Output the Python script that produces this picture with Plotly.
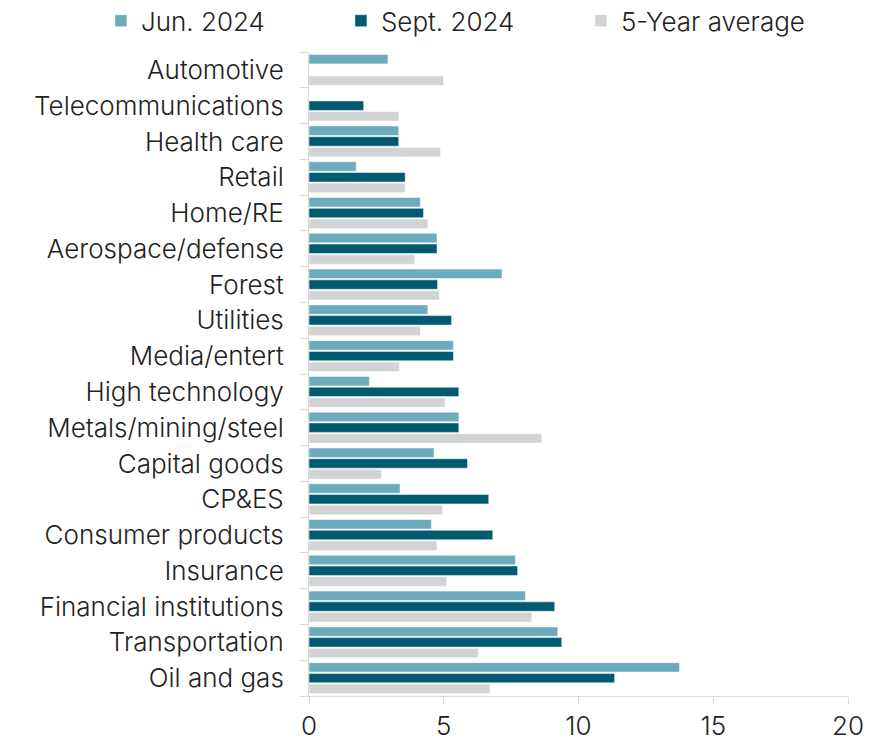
import plotly.graph_objects as go

categories = ["Automotive", "Telecommunications", "Health care", "Retail", "Home/RE",
              "Aerospace/defense", "Forest", "Utilities", "Media/entert", "High technology",
              "Metals/mining/steel", "Capital goods", "CP&ES", "Consumer products",
              "Insurance", "Financial institutions", "Transportation", "Oil and gas"]

jun_2024 = [2.93, None, 3.33, 1.75, 4.13, 4.75, 7.16, 4.41, 5.36, 2.24,
            5.56, 4.64, 3.38, 4.54, 7.66, 8.03, 9.23, 13.75]
sept_2024 = [None, 2.03, 3.33, 3.57, 4.25, 4.75, 4.77, 5.29, 5.36, 5.56,
             5.56, 5.88, 6.67, 6.82, 7.74, 9.12, 9.38, 11.34]
five_year_avg = [4.99, 3.33, 4.88, 3.57, 4.41, 3.92, 4.84, 4.13, 3.36, 5.05,
                 8.64, 2.69, 4.95, 4.75, 5.11, 8.27, 6.28, 6.72]

x_ticks = [0, 5, 10, 15, 20]

series = [
    ("Jun. 2024", jun_2024, "#6CAABD"),
    ("Sept. 2024", sept_2024, "#005A70"),
    ("5-Year average", five_year_avg, "#D2D3D5"),
]

FONT = "Inter"
TXT = "#222222"
FS = 26

fig = go.Figure()
for name, vals, color in series:
    fig.add_trace(go.Bar(
        name=name, x=vals, y=categories, orientation="h",
        marker=dict(color=color, line=dict(color="white", width=0.5)),
    ))

fig.update_layout(
    width=891, height=739,
    margin=dict(l=309, r=43, t=52, b=43, autoexpand=False),
    paper_bgcolor="white", plot_bgcolor="white",
    barmode="group", bargap=0.1, bargroupgap=0.12,
    font=dict(family=FONT, size=FS, color=TXT, weight=300),
    showlegend=True,
    legend=dict(
        orientation="h", xref="paper", yref="paper",
        x=-0.386, y=1.085, xanchor="left", yanchor="top",
        font=dict(family=FONT, size=FS, color=TXT, weight=300),
        itemwidth=30, entrywidth=195, traceorder="normal",
        bgcolor="rgba(0,0,0,0)",
    ),
)

fig.update_xaxes(
    range=[0, 20], tickvals=x_ticks, showgrid=False, zeroline=False,
    showline=True, linecolor="#D9D9D9", linewidth=1,
    ticks="outside", ticklen=7, tickcolor="#D9D9D9",
    ticklabelstandoff=0,
    tickfont=dict(family=FONT, size=FS, color=TXT, weight=300),
)
fig.update_yaxes(
    autorange="reversed", showgrid=False, zeroline=False,
    tickmode="array", tickvals=categories,
    showline=True, linecolor="#D9D9D9", linewidth=1,
    ticks="outside", ticklen=8, tickcolor="#D9D9D9", tickson="boundaries",
    ticklabelstandoff=19,
    tickfont=dict(family=FONT, size=FS, color=TXT, weight=300),
)

fig.write_html("out.html")
